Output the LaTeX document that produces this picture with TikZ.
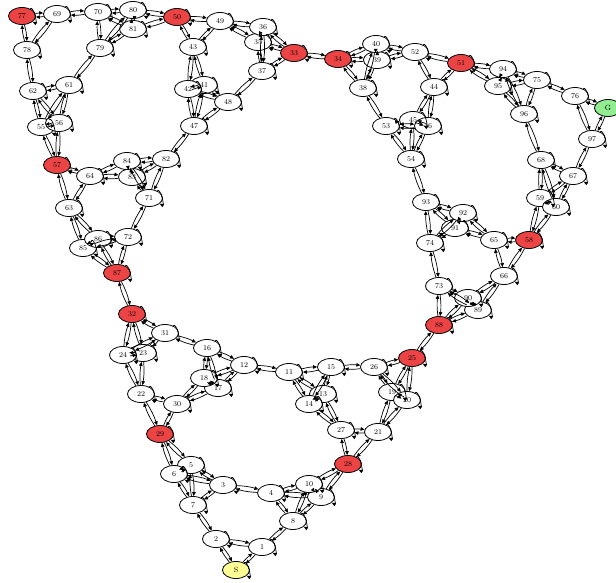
\documentclass[tikz,border=0pt]{standalone}
\usetikzlibrary{arrows.meta,shapes.geometric}

\definecolor{doorred}{RGB}{236,68,68}
\definecolor{startyellow}{RGB}{255,255,150}
\definecolor{goalgreen}{RGB}{144,238,144}

\tikzset{
  state/.style={shape=ellipse, draw, fill=white, line width=0.8pt, minimum width=27pt, minimum height=17pt, inner sep=0pt, font=\fontsize{7.5}{8}\selectfont},
  door/.style={state, fill=doorred},
  trans/.style={-{Triangle[length=4pt, width=3.5pt]}, line width=0.7pt},
  twoway/.style={trans, bend left=7},
  every loop/.style={min distance=19pt, looseness=1},
  selfloop/.style={trans, loop, out=42, in=-28},
}

\begin{document}
\begin{tikzpicture}[x=1pt, y=-1pt]
  \useasboundingbox (0, 0) rectangle (616, 583);

  % bottom corner
  \node[state, fill=startyellow] (nS) at (236, 570) {S};
  \node[state] (n1) at (262, 547) {1};
  \node[state] (n2) at (216, 539) {2};
  \node[state] (n3) at (223, 485) {3};
  \node[state] (n4) at (271, 493) {4};
  \node[state] (n5) at (191, 465) {5};
  \node[state] (n6) at (174, 474) {6};
  \node[state] (n7) at (193, 505) {7};
  \node[state] (n8) at (293, 521) {8};
  \node[state] (n9) at (321, 497) {9};
  \node[state] (n10) at (309, 484) {10};
  \node[state] (n11) at (289, 372) {11};
  \node[state] (n12) at (244, 365) {12};
  \node[state] (n13) at (323, 394) {13};
  \node[state] (n14) at (309, 404) {14};
  \node[state] (n15) at (331, 367) {15};
  \node[state] (n16) at (207, 348) {16};
  \node[state] (n17) at (218, 388) {17};
  \node[state] (n18) at (204, 378) {18};
  \node[state] (n19) at (392, 392) {19};
  \node[state] (n20) at (407, 400) {20};
  \node[state] (n21) at (378, 432) {21};
  \node[state] (n22) at (141, 394) {22};
  \node[state] (n23) at (143, 353) {23};
  \node[state] (n24) at (123, 355) {24};
  \node[door] (n25) at (412, 358) {25};
  \node[state] (n26) at (374, 367) {26};
  \node[state] (n27) at (341, 430) {27};
  \node[door] (n28) at (348, 464) {28};
  \node[door] (n29) at (160, 434) {29};
  \node[state] (n30) at (177, 404) {30};
  \node[state] (n31) at (165, 333) {31};
  \node[door] (n32) at (132, 314) {32};

  % top row
  \node[door] (n33) at (294, 53) {33};
  \node[door] (n34) at (338, 59) {34};
  \node[state] (n35) at (258, 42) {35};
  \node[state] (n36) at (263, 27) {36};
  \node[state] (n37) at (262, 71) {37};
  \node[state] (n38) at (363, 88) {38};
  \node[state] (n39) at (377, 60) {39};
  \node[state] (n40) at (376, 44) {40};
  \node[state] (n41) at (204, 85) {41};
  \node[state] (n42) at (188, 89) {42};
  \node[state] (n43) at (193, 47) {43};
  \node[state] (n44) at (434, 87) {44};
  \node[state] (n45) at (413, 120) {45};
  \node[state] (n46) at (428, 126) {46};
  \node[state] (n47) at (194, 126) {47};
  \node[state] (n48) at (228, 102) {48};
  \node[state] (n49) at (220, 21) {49};
  \node[door] (n50) at (177, 17) {50};
  \node[door] (n51) at (461, 63) {51};
  \node[state] (n52) at (415, 52) {52};
  \node[state] (n53) at (386, 126) {53};
  \node[state] (n54) at (411, 159) {54};
  \node[state] (n55) at (41, 127) {55};
  \node[state] (n56) at (59, 123) {56};
  \node[door] (n57) at (57, 165) {57};
  \node[door] (n58) at (529, 240) {58};
  \node[state] (n59) at (540, 198) {59};
  \node[state] (n60) at (556, 207) {60};
  \node[state] (n61) at (69, 85) {61};
  \node[state] (n62) at (33, 91) {62};
  \node[state] (n63) at (69, 208) {63};
  \node[state] (n64) at (90, 176) {64};
  \node[state] (n65) at (494, 240) {65};
  \node[state] (n66) at (504, 276) {66};
  \node[state] (n67) at (573, 176) {67};
  \node[state] (n68) at (541, 160) {68};
  \node[state] (n69) at (57, 14) {69};
  \node[state] (n70) at (98, 12) {70};
  \node[state] (n71) at (149, 198) {71};
  \node[state] (n72) at (128, 237) {72};
  \node[state] (n73) at (439, 286) {73};
  \node[state] (n74) at (430, 243) {74};
  \node[state] (n75) at (537, 80) {75};
  \node[state] (n76) at (575, 96) {76};
  \node[door] (n77) at (22, 16) {77};
  \node[state] (n78) at (27, 50) {78};
  \node[state] (n79) at (100, 48) {79};
  \node[state] (n80) at (133, 10) {80};
  \node[state] (n81) at (133, 29) {81};
  \node[state] (n82) at (166, 159) {82};
  \node[state] (n83) at (132, 177) {83};
  \node[state] (n84) at (127, 161) {84};
  \node[state] (n85) at (83, 248) {85};
  \node[state] (n86) at (98, 239) {86};
  \node[door] (n87) at (117, 273) {87};
  \node[door] (n88) at (439, 325) {88};
  \node[state] (n89) at (478, 310) {89};
  \node[state] (n90) at (468, 298) {90};
  \node[state] (n91) at (455, 228) {91};
  \node[state] (n92) at (463, 213) {92};
  \node[state] (n93) at (426, 202) {93};
  \node[state] (n94) at (503, 69) {94};
  \node[state] (n95) at (498, 86) {95};
  \node[state] (n96) at (524, 114) {96};
  \node[state] (n97) at (592, 139) {97};
  \node[state, fill=goalgreen] (nG) at (608, 108) {G};

  % self loops
  \foreach \n in {S, G} \draw[selfloop] (n\n) to (n\n);
  \foreach \n in {1,...,97} \draw[selfloop] (n\n) to (n\n);

  % moves in both directions
  \foreach \a/\b in {
      % bottom
      S/1, S/2, 1/2, 3/6, 3/7, 6/7, 4/8, 4/10, 8/10, 1/8, 2/7, 3/4,
      5/6, 5/3, 5/7, 5/29, 9/10, 9/4, 9/8, 9/28,
      22/29, 22/30, 29/30, 24/31, 24/32, 31/32, 12/16, 12/18, 16/18, 22/24, 30/18, 31/16,
      23/24, 23/31, 23/32, 23/22, 17/18, 17/12, 17/16, 17/30,
      21/27, 21/28, 27/28, 11/14, 11/15, 14/15, 20/25, 20/26, 25/26, 27/14, 15/26, 21/20,
      13/14, 13/11, 13/15, 13/27, 19/20, 19/25, 19/26, 19/21,
      6/29, 10/28, 12/11,
      % upper left
      87/72, 87/86, 72/86, 57/63, 57/64, 63/64, 82/84, 82/71, 84/71, 86/63, 64/84, 71/72,
      85/86, 85/87, 85/72, 85/63, 83/84, 83/82, 83/71, 83/64,
      77/78, 77/69, 78/69, 62/61, 62/56, 61/56, 70/79, 70/81, 79/81, 78/62, 61/79, 69/70,
      55/56, 55/62, 55/61, 55/57, 80/81, 80/70, 80/79, 80/50,
      50/49, 50/43, 49/43, 42/47, 42/48, 47/48, 36/37, 36/33, 37/33, 43/42, 48/37, 49/36,
      41/42, 41/47, 41/48, 41/43, 35/36, 35/37, 35/33, 35/49,
      56/57, 81/50, 82/47,
      % right
      34/38, 34/40, 38/40, 52/51, 52/44, 51/44, 53/54, 53/46, 54/46, 40/52, 38/53, 44/46,
      39/40, 39/34, 39/38, 39/52, 45/46, 45/53, 45/54, 45/44,
      95/96, 95/75, 96/75, 76/G, 76/97, G/97, 68/67, 68/60, 67/60, 75/76, 96/68, 97/67,
      94/95, 94/96, 94/75, 94/51, 59/60, 59/68, 59/67, 59/58,
      93/74, 93/92, 74/92, 65/58, 65/66, 58/66, 73/88, 73/90, 88/90, 92/65, 74/73, 66/90,
      91/92, 91/93, 91/74, 91/65, 89/90, 89/73, 89/88, 89/66,
      51/95, 54/93, 58/60,
      % between the corners
      33/34, 87/32, 88/25}
  {
    \draw[twoway] (n\a) to (n\b);
    \draw[twoway] (n\b) to (n\a);
  }
\end{tikzpicture}
\end{document}
